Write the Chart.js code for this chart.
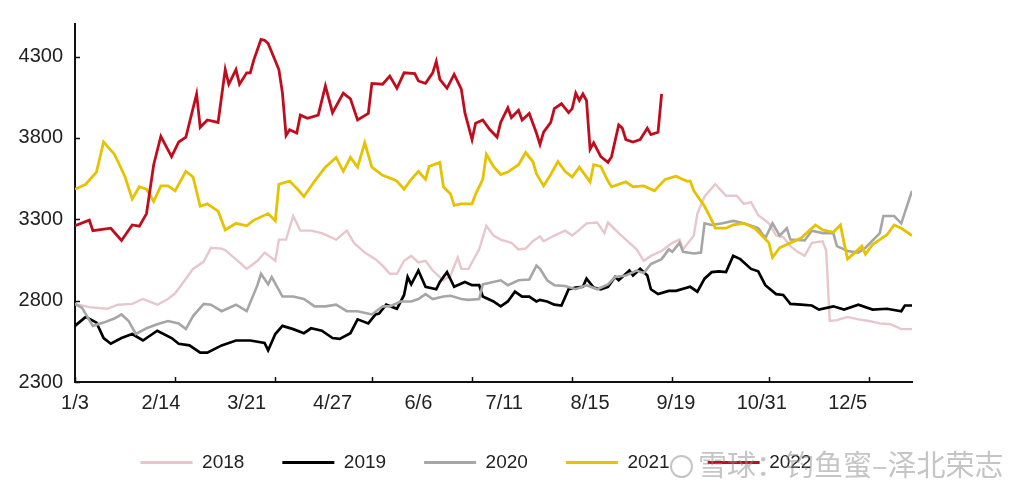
<!DOCTYPE html>
<html><head><meta charset="utf-8">
<script src="https://cdn.jsdelivr.net/npm/chart.js@4"></script>
<style>
html,body{margin:0;padding:0;background:#fff;}
#wrap{position:relative;width:1027px;height:482px;overflow:hidden;}
#wm{position:absolute;left:670px;top:444px;font-family:"Noto Sans CJK SC",sans-serif;font-size:29px;color:rgba(140,140,140,0.5);white-space:nowrap;pointer-events:none;line-height:38px;}
#wm .logo{display:inline-block;width:19px;height:19px;border:2px solid rgba(140,140,140,0.5);border-radius:50%;margin-right:5px;vertical-align:-2px;}
</style></head><body>
<div id="wrap"><canvas id="c" width="1027" height="482"></canvas><div id="wm"><span class="logo"></span>雪球：钓鱼蜜–泽北荣志</div></div>
<script>
// x = trading-day index from 1/3, y = price
const seriesNames = ['2018','2019','2020','2021','2022'];
const xTickLabels = ['1/3','2/14','3/21','4/27','6/6','7/11','8/15','9/19','10/31','12/5'];
const xLabelDays = [0,24,48,72,96,120,144,168,192,216];
const xTickMarkDays = [0,28,56,83,111,139,167,194,222];
const yTickValues = [2300,2800,3300,3800,4300];

const s2018 = [[0,2780],[4,2760],[9,2750],[12,2775],[16,2780],[19,2810],[23,2775],[26,2810],[28,2845],[31,2935],[33,2995],[36,3040],[38,3125],[41,3120],[42,3110],[46,3035],[48,2995],[51,3045],[53,3095],[56,3045],[57,3175],[59,3175],[61,3320],[63,3230],[66,3230],[69,3215],[73,3175],[76,3230],[78,3155],[81,3095],[84,3055],[86,3015],[88,2965],[90,2965],[92,3045],[94,3075],[96,3035],[98,3045],[100,2985],[103,2925],[105,2955],[107,3065],[108,2995],[110,2995],[113,3115],[115,3260],[117,3200],[119,3175],[122,3155],[124,3115],[126,3120],[128,3165],[130,3195],[131,3165],[134,3200],[137,3230],[139,3200],[141,3235],[143,3275],[146,3280],[148,3215],[149,3280],[152,3215],[154,3175],[157,3115],[159,3045],[161,3075],[164,3105],[167,3155],[169,3175],[170,3115],[173,3200],[174,3335],[176,3440],[179,3515],[182,3445],[185,3445],[187,3395],[189,3405],[191,3325],[194,3275],[196,3200],[198,3190],[200,3135],[202,3100],[204,3075],[206,3155],[209,3165],[210,3110],[211,2675],[213,2680],[216,2700],[219,2685],[222,2675],[225,2660],[228,2655],[231,2625],[234,2625]];
const s2019 = [[0,2645],[3,2700],[6,2665],[8,2570],[10,2535],[13,2570],[16,2595],[19,2555],[23,2615],[27,2570],[29,2535],[32,2525],[35,2480],[37,2480],[41,2525],[45,2555],[49,2555],[53,2540],[54,2495],[56,2595],[58,2645],[61,2625],[64,2600],[66,2630],[69,2615],[72,2570],[74,2565],[77,2600],[79,2685],[82,2660],[84,2715],[85,2720],[87,2775],[90,2750],[92,2835],[93,2945],[94,2900],[96,2985],[98,2885],[101,2870],[102,2915],[104,2975],[106,2885],[109,2915],[111,2895],[113,2895],[114,2825],[117,2795],[119,2765],[121,2795],[123,2855],[125,2825],[127,2825],[129,2795],[130,2805],[132,2795],[134,2775],[136,2770],[138,2870],[140,2880],[142,2885],[143,2935],[145,2880],[147,2870],[149,2885],[151,2945],[152,2925],[155,2985],[156,2955],[158,2995],[160,2955],[161,2870],[163,2840],[166,2860],[168,2860],[172,2885],[174,2855],[176,2935],[178,2975],[180,2980],[182,2975],[184,3075],[186,3055],[189,2995],[191,2980],[193,2895],[196,2840],[198,2835],[200,2780],[203,2775],[206,2770],[208,2745],[212,2765],[215,2745],[219,2775],[223,2745],[227,2750],[231,2735],[232,2770],[234,2770]];
const s2020 = [[0,2780],[2,2755],[4,2680],[5,2645],[8,2665],[11,2690],[13,2715],[15,2675],[17,2595],[20,2630],[23,2655],[26,2675],[29,2660],[31,2625],[33,2705],[36,2780],[38,2775],[41,2735],[45,2775],[48,2735],[51,2895],[52,2965],[54,2900],[55,2945],[58,2825],[61,2825],[64,2810],[67,2765],[70,2765],[73,2775],[76,2735],[79,2735],[83,2715],[86,2765],[88,2765],[91,2795],[94,2795],[96,2810],[98,2840],[100,2810],[103,2825],[105,2830],[108,2810],[110,2805],[113,2810],[114,2900],[116,2910],[119,2925],[121,2895],[124,2925],[127,2930],[129,3015],[130,2995],[132,2925],[134,2895],[137,2890],[140,2870],[143,2895],[146,2870],[149,2900],[151,2945],[154,2955],[157,2985],[159,2970],[161,3025],[164,3055],[166,3115],[167,3100],[169,3155],[170,3100],[173,3090],[175,3095],[176,3275],[178,3265],[181,3275],[184,3290],[187,3275],[191,3245],[193,3185],[195,3275],[197,3200],[199,3245],[200,3175],[204,3170],[206,3230],[209,3215],[212,3215],[213,3135],[216,3105],[219,3095],[221,3125],[225,3215],[226,3320],[229,3320],[231,3275],[234,3475]];
const s2021 = [[0,3485],[3,3515],[6,3590],[8,3775],[11,3700],[12,3655],[14,3560],[16,3425],[18,3500],[20,3485],[22,3410],[24,3505],[26,3505],[28,3475],[31,3595],[33,3560],[35,3380],[37,3395],[40,3350],[42,3235],[45,3275],[48,3260],[50,3295],[54,3335],[56,3290],[57,3515],[60,3535],[62,3490],[64,3440],[67,3535],[70,3620],[73,3680],[75,3595],[77,3680],[79,3620],[81,3770],[83,3620],[86,3570],[89,3545],[90,3535],[92,3485],[94,3545],[96,3595],[98,3545],[99,3625],[102,3650],[103,3500],[105,3455],[106,3385],[108,3395],[111,3395],[112,3455],[114,3545],[115,3700],[117,3625],[119,3575],[121,3590],[124,3635],[126,3710],[128,3655],[129,3580],[131,3505],[133,3575],[135,3655],[137,3595],[139,3560],[141,3620],[144,3530],[145,3635],[147,3625],[149,3535],[150,3500],[154,3530],[156,3500],[159,3505],[162,3475],[165,3545],[168,3565],[171,3535],[172,3535],[173,3475],[176,3380],[178,3295],[179,3245],[182,3245],[184,3265],[187,3275],[190,3245],[192,3200],[194,3155],[195,3065],[197,3125],[200,3155],[203,3185],[207,3265],[209,3235],[212,3220],[214,3265],[215,3155],[216,3055],[218,3095],[220,3135],[221,3085],[223,3145],[225,3175],[227,3205],[229,3265],[231,3245],[234,3200]];
const s2022 = [[0,3260],[4,3295],[5,3230],[10,3245],[13,3170],[16,3265],[18,3258],[20,3335],[22,3635],[24,3810],[27,3685],[29,3775],[31,3805],[34,4070],[35,3865],[37,3910],[40,3895],[42,4220],[43,4130],[45,4220],[46,4130],[48,4200],[49,4200],[50,4280],[52,4405],[53,4400],[54,4380],[57,4220],[58,4075],[59,3815],[60,3850],[62,3830],[63,3940],[65,3920],[68,3940],[70,4120],[72,3955],[75,4075],[77,4040],[79,3910],[82,3950],[83,4135],[86,4130],[88,4180],[90,4105],[92,4200],[95,4195],[96,4150],[98,4135],[100,4200],[101,4270],[102,4160],[104,4105],[106,4190],[108,4100],[109,3955],[111,3790],[112,3890],[114,3910],[116,3850],[118,3805],[119,3895],[121,3985],[122,3925],[124,3970],[125,3910],[127,3950],[129,3830],[130,3760],[131,3835],[133,3895],[134,3980],[136,4010],[138,3955],[139,3980],[140,4075],[141,4030],[142,4070],[143,4030],[144,3730],[145,3770],[147,3685],[149,3650],[150,3685],[152,3880],[153,3860],[154,3790],[156,3775],[158,3790],[160,3860],[161,3820],[163,3835],[164,4070]];

const allSeries = [s2018,s2019,s2020,s2021,s2022];
const colors = ['#e7c7cb','#000000','#a6a6a6','#e6c200','#c00d1e'];
const widths = [2.4,2.7,2.6,2.8,2.8];

const FONT = '"Liberation Sans", Arial, sans-serif';

const tickMarks = {
  id:'tickMarks',
  afterDraw(chart){
    const {ctx, scales:{x,y}} = chart;
    ctx.save();
    ctx.strokeStyle='#111'; ctx.lineWidth=1.5;
    ctx.beginPath();
    xTickMarkDays.forEach(d=>{const px=Math.round(x.getPixelForValue(d))+0.5; ctx.moveTo(px,y.bottom); ctx.lineTo(px,y.bottom-5);});
    yTickValues.forEach(v=>{const py=Math.round(y.getPixelForValue(v))+0.5; ctx.moveTo(x.left,py); ctx.lineTo(x.left+5,py);});
    ctx.stroke();
    ctx.restore();
  }
};

new Chart(document.getElementById('c'), {
  type:'line',
  data:{
    datasets: allSeries.map((s,i)=>({
      label: seriesNames[i],
      data: s.map(([d,v])=>({x:d,y:v})),
      borderColor: colors[i],
      backgroundColor: colors[i],
      borderWidth: widths[i],
      pointRadius:0,
      tension:0,
      fill:false,
      order: 5-i
    }))
  },
  options:{
    responsive:false,
    animation:false,
    devicePixelRatio:1,
    layout:{padding:{left:0,right:75,top:17,bottom:0}},
    plugins:{
      tooltip:{enabled:false},
      legend:{
        position:'bottom',
        labels:{
          boxWidth:52, boxHeight:3, padding:38,
          color:'#222',
          font:{family:FONT,size:19},
          sort:(a,b)=>a.datasetIndex-b.datasetIndex,
          generateLabels:(chart)=>chart.data.datasets.map((ds,i)=>({
            text: ds.label, fillStyle: ds.borderColor, strokeStyle: ds.borderColor,
            lineWidth:0, hidden:false, datasetIndex:i, fontColor:'#222'
          }))
        }
      }
    },
    scales:{
      x:{
        type:'linear', min:0, max:234,
        grid:{display:false, drawTicks:false, tickLength:0},
        border:{display:true,color:'#111',width:2},
        afterBuildTicks:(axis)=>{axis.ticks = xLabelDays.map(v=>({value:v}));},
        afterFit:(s)=>{s.height=33;},
        ticks:{
          autoSkip:false, maxRotation:0, padding:9, color:'#222',
          font:{family:FONT,size:20},
          callback:(v)=>{const k=xLabelDays.indexOf(v); return k>=0?xTickLabels[k]:'';}
        }
      },
      y:{
        type:'linear', min:2300, max:4500,
        grid:{display:false, drawTicks:false, tickLength:0},
        border:{display:true,color:'#111',width:2},
        afterBuildTicks:(axis)=>{axis.ticks = yTickValues.map(v=>({value:v}));},
        afterFit:(s)=>{s.width=75;},
        ticks:{padding:12,color:'#222',font:{family:FONT,size:20},callback:(v)=>String(v)}
      },
      yR:{
        type:'linear', position:'right', display:true,
        grid:{display:false, drawTicks:false},
        border:{display:false},
        ticks:{display:false},
        afterFit:(s)=>{s.width=40;}
      }
    }
  },
  plugins:[tickMarks]
});
</script>
</body></html>
